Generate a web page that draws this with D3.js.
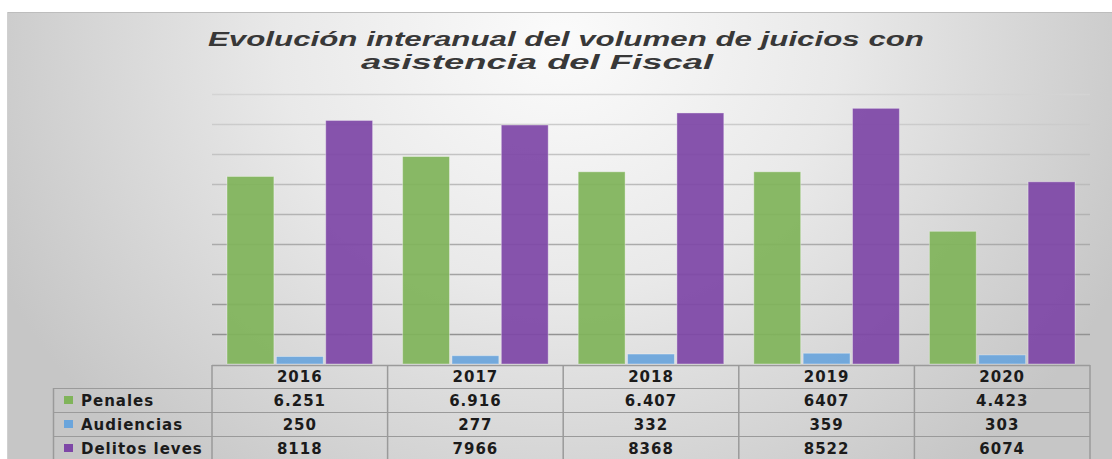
<!DOCTYPE html>
<html>
<head>
<meta charset="utf-8">
<script src="https://cdn.jsdelivr.net/npm/d3@7"></script>
<style>
  body { margin: 0; background: #fff; }
  svg { display: block; }
</style>
</head>
<body>
<div id="chart"></div>
<script>
// data
const years = ["2016", "2017", "2018", "2019", "2020"];
const seriesNames = ["Penales", "Audiencias", "Delitos leves"];
const penales = [6251, 6916, 6407, 6407, 4423];
const audiencias = [250, 277, 332, 359, 303];
const delitosLeves = [8118, 7966, 8368, 8522, 6074];
// table text exactly as printed
const penalesText = ["6.251", "6.916", "6.407", "6407", "4.423"];
const audienciasText = ["250", "277", "332", "359", "303"];
const delitosText = ["8118", "7966", "8368", "8522", "6074"];
const gridTicks = [1000, 2000, 3000, 4000, 5000, 6000, 7000, 8000, 9000];
const titleLines = ["Evolución interanual del volumen de juicios con", "asistencia del Fiscal"];

const colors = ["#80b45a", "#6aa5dc", "#7e47a7"];
const series = [penales, audiencias, delitosLeves];
const seriesText = [penalesText, audienciasText, delitosText];

const width = 1112;
const height = 459;
const plotLeft = 212, plotRight = 1090;
const baseY = 364, topY = 94;

const svg = d3.select("#chart").append("svg")
    .attr("width", width)
    .attr("height", height);

const defs = svg.append("defs");

// background shading, light in the middle, greyer at the sides
const bg = defs.append("radialGradient")
    .attr("id", "bg")
    .attr("gradientUnits", "userSpaceOnUse")
    .attr("cx", 560).attr("cy", 40).attr("r", 620)
    .attr("gradientTransform", "translate(560,40) scale(1,0.9) translate(-560,-40)");
bg.append("stop").attr("offset", "0%").attr("stop-color", "#fbfbfb");
bg.append("stop").attr("offset", "45%").attr("stop-color", "#e9e9e9");
bg.append("stop").attr("offset", "100%").attr("stop-color", "#c6c6c6");

const gridGrad = defs.append("linearGradient")
    .attr("id", "gridGrad")
    .attr("gradientUnits", "userSpaceOnUse")
    .attr("x1", 0).attr("y1", topY).attr("x2", 0).attr("y2", baseY);
gridGrad.append("stop").attr("offset", "0%").attr("stop-color", "#d4d4d4");
gridGrad.append("stop").attr("offset", "100%").attr("stop-color", "#8a8a8a");

svg.append("rect")
    .attr("x", 7).attr("y", 12)
    .attr("width", width - 7).attr("height", height - 12)
    .attr("fill", "url(#bg)");
svg.append("line")
    .attr("x1", 7).attr("x2", width).attr("y1", 12.5).attr("y2", 12.5)
    .attr("stroke", "#bdbdbd");
svg.append("line")
    .attr("x1", 7.5).attr("x2", 7.5).attr("y1", 12).attr("y2", height)
    .attr("stroke", "#d0d0d0");

// title, glyphs stretched to the printed width
svg.append("g").selectAll("text")
    .data(titleLines)
    .enter().append("text")
    .attr("x", (d, i) => i === 0 ? 208 : 361)
    .attr("y", (d, i) => i === 0 ? 46 : 69)
    .attr("textLength", (d, i) => i === 0 ? 716 : 352)
    .attr("lengthAdjust", "spacingAndGlyphs")
    .style("font-family", "'Liberation Sans', Arial, sans-serif")
    .style("font-weight", "bold")
    .style("font-style", "italic")
    .style("font-size", "20px")
    .attr("fill", "#383838")
    .text(d => d);

// scales
const x = d3.scaleBand()
    .domain(years)
    .range([plotLeft, plotRight])
    .paddingInner(0).paddingOuter(0);

const xInner = d3.scaleBand()
    .domain(seriesNames)
    .range([15, x.bandwidth() - 15])
    .paddingInner(0.05);

const y = d3.scaleLinear()
    .domain([0, 9000])
    .range([baseY, topY]);

// gridlines
svg.append("g").selectAll("line")
    .data(gridTicks)
    .enter().append("line")
    .attr("x1", plotLeft).attr("x2", plotRight)
    .attr("y1", d => Math.round(y(d)) + 0.5)
    .attr("y2", d => Math.round(y(d)) + 0.5)
    .attr("stroke", "url(#gridGrad)")
    .attr("stroke-width", 1.5);

// bars
const groups = svg.append("g").selectAll("g")
    .data(years)
    .enter().append("g")
    .attr("transform", d => `translate(${x(d)},0)`);

groups.selectAll("rect")
    .data((d, i) => series.map((s, k) => ({ name: seriesNames[k], value: s[i], k: k })))
    .enter().append("rect")
    .attr("x", d => xInner(d.name))
    .attr("width", xInner.bandwidth())
    .attr("y", d => y(d.value))
    .attr("height", d => baseY - y(d.value))
    .attr("fill", d => colors[d.k])
    .attr("fill-opacity", 0.93)
    .attr("stroke", "#ffffff")
    .attr("stroke-opacity", 0.35)
    .attr("stroke-width", 1);

// data table under the plot
const headerTop = 365;
const headerH = 23;
const rowH = 24;
const tableLeft = 53;
const lineColor = "#9a9a9a";
const table = svg.append("g");

const fontStyle = sel => sel
    .style("font-family", "'DejaVu Sans', Verdana, sans-serif")
    .style("font-weight", "bold")
    .style("font-size", "15px")
    .style("letter-spacing", "1px")
    .attr("fill", "#1b1b1b");

// horizontal lines
table.append("line")
    .attr("x1", plotLeft).attr("x2", plotRight)
    .attr("y1", headerTop + 0.5).attr("y2", headerTop + 0.5)
    .attr("stroke", lineColor).attr("stroke-width", 1.5);
table.selectAll("line.row")
    .data(seriesNames)
    .enter().append("line")
    .attr("class", "row")
    .attr("x1", tableLeft).attr("x2", plotRight)
    .attr("y1", (d, i) => headerTop + headerH + i * rowH + 0.5)
    .attr("y2", (d, i) => headerTop + headerH + i * rowH + 0.5)
    .attr("stroke", lineColor).attr("stroke-width", 1);

// vertical lines
table.selectAll("line.col")
    .data(years.concat(["end"]))
    .enter().append("line")
    .attr("class", "col")
    .attr("x1", d => d === "end" ? plotRight : x(d))
    .attr("x2", d => d === "end" ? plotRight : x(d))
    .attr("y1", headerTop).attr("y2", height)
    .attr("stroke", lineColor).attr("stroke-width", 1.5);
table.append("line")
    .attr("x1", tableLeft + 0.5).attr("x2", tableLeft + 0.5)
    .attr("y1", headerTop + headerH).attr("y2", height)
    .attr("stroke", lineColor).attr("stroke-width", 1.5);

// header years
table.selectAll("text.year")
    .data(years)
    .enter().append("text")
    .attr("class", "year")
    .attr("x", d => x(d) + x.bandwidth() / 2)
    .attr("y", headerTop + 17)
    .attr("text-anchor", "middle")
    .call(fontStyle)
    .text(d => d);

// legend column
const legendRows = table.selectAll("g.legend")
    .data(seriesNames)
    .enter().append("g")
    .attr("class", "legend")
    .attr("transform", (d, i) => `translate(0,${headerTop + headerH + i * rowH})`);

legendRows.append("rect")
    .attr("x", 64).attr("y", 8)
    .attr("width", 9).attr("height", 8)
    .attr("fill", (d, i) => colors[i]);

legendRows.append("text")
    .attr("x", 81).attr("y", 18)
    .call(fontStyle)
    .text(d => d);

// values
seriesText.forEach((vals, k) => {
    table.selectAll("text.v" + k)
        .data(vals)
        .enter().append("text")
        .attr("class", "v" + k)
        .attr("x", (d, i) => x(years[i]) + x.bandwidth() / 2)
        .attr("y", headerTop + headerH + k * rowH + 18)
        .attr("text-anchor", "middle")
        .call(fontStyle)
        .text(d => d);
});
</script>
</body>
</html>
